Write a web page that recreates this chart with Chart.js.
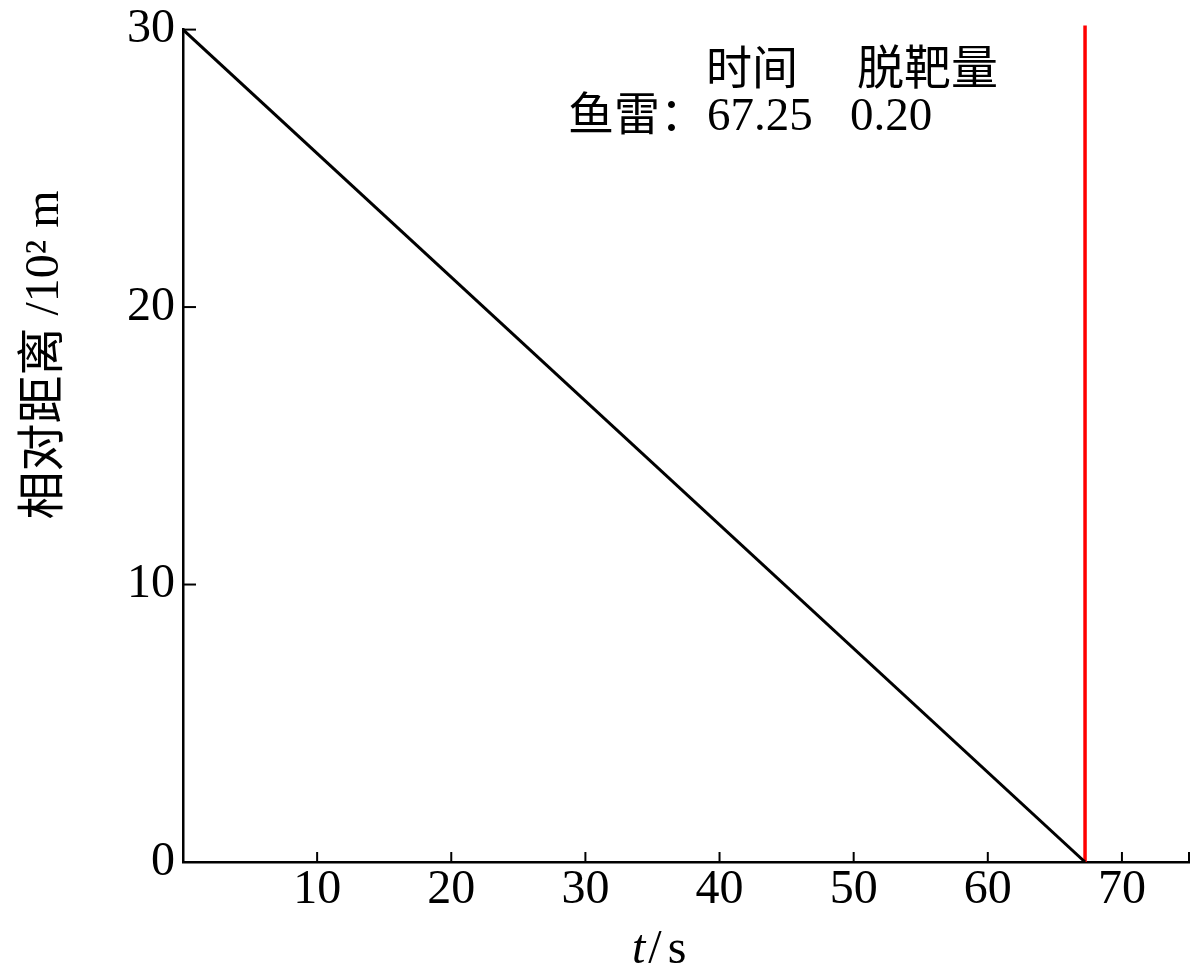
<!DOCTYPE html>
<html>
<head>
<meta charset="utf-8">
<script src="https://cdn.jsdelivr.net/npm/chart.js@4.4.1/dist/chart.umd.min.js"></script>
<style>
html,body{margin:0;padding:0;background:#fff;}
#wrap{width:1200px;height:977px;position:relative;}
</style>
</head>
<body>
<div id="wrap"><canvas id="c"></canvas></div>
<script>
// ---- data ----
const xTickValues = [0, 10, 20, 30, 40, 50, 60, 70, 75];
const yTickValues = [0, 10, 20, 30];
const torpedoTime = [0, 67.25];          // s
const torpedoDistance = [30, 0];          // 10^2 m
const hitTimeX = [67.25, 67.25];
const hitTimeY = [0, 30.15];
const headerRow = ['时间', '脱靶量'];
const valueRow = ['鱼雷：', '67.25', '0.20'];
const xTitle = ['t', '/', 's'];
const yTitle = '相对距离 /10² m';

const SERIF = '"Liberation Serif", "Noto Sans CJK SC", serif';

const inwardTicks = {
  id: 'inwardTicks',
  afterDatasetsDraw(chart) {
    const ctx = chart.ctx, xs = chart.scales.x, ys = chart.scales.y;
    const ca = chart.chartArea;
    ctx.save();
    ctx.strokeStyle = '#000';
    ctx.lineWidth = 2;
    xTickValues.forEach(v => {
      if (v === 0) return;
      const px = xs.getPixelForValue(v);
      ctx.beginPath(); ctx.moveTo(px, ca.bottom); ctx.lineTo(px, ca.bottom - 10); ctx.stroke();
    });
    yTickValues.forEach(v => {
      if (v === 0) return;
      const py = ys.getPixelForValue(v);
      ctx.beginPath(); ctx.moveTo(ca.left, py); ctx.lineTo(ca.left + 13, py); ctx.stroke();
    });
    ctx.restore();
  }
};

const texts = {
  id: 'texts',
  afterDraw(chart) {
    const ctx = chart.ctx;
    ctx.save();
    ctx.fillStyle = '#000';
    ctx.textBaseline = 'alphabetic';
    ctx.textAlign = 'left';
    ctx.font = '46px ' + SERIF;
    ctx.fillText(headerRow[0], 706, 84);
    ctx.font = '47px ' + SERIF;
    ctx.fillText(headerRow[1], 857, 84);
    ctx.font = '46px ' + SERIF;
    ctx.fillText(valueRow[0], 568, 130);
    ctx.font = '47px ' + SERIF;
    ctx.fillText(valueRow[1], 707, 130);
    ctx.fillText(valueRow[2], 850, 130);
    // x title
    ctx.font = 'italic 48px ' + SERIF;
    let x = 632;
    ctx.fillText(xTitle[0], x, 963);
    x += ctx.measureText(xTitle[0]).width + 3;
    ctx.font = '48px ' + SERIF;
    ctx.fillText(xTitle[1], x, 963);
    x += ctx.measureText(xTitle[1]).width + 6;
    ctx.fillText(xTitle[2], x, 963);
    // y title
    ctx.translate(58, 355);
    ctx.rotate(-Math.PI / 2);
    ctx.textAlign = 'center';
    ctx.font = '48px ' + SERIF;
    ctx.fillText(yTitle, 0, 0);
    ctx.restore();
  }
};

new Chart(document.getElementById('c'), {
  type: 'line',
  data: {
    datasets: [
      {
        data: torpedoTime.map((t, i) => ({x: t, y: torpedoDistance[i]})),
        borderColor: '#000', borderWidth: 3, pointRadius: 0, tension: 0, fill: false
      },
      {
        data: hitTimeX.map((t, i) => ({x: t, y: hitTimeY[i]})),
        borderColor: '#ff0000', borderWidth: 3.5, pointRadius: 0, tension: 0, fill: false, clip: false
      }
    ]
  },
  plugins: [inwardTicks, texts],
  options: {
    responsive: true,
    maintainAspectRatio: false,
    animation: false,
    layout: { padding: { left: 0, right: 11, top: 29, bottom: 0 } },
    plugins: { legend: { display: false }, tooltip: { enabled: false } },
    scales: {
      x: {
        type: 'linear', min: 0, max: 75,
        afterBuildTicks: s => { s.ticks = xTickValues.map(v => ({ value: v })); },
        afterFit: s => { s.height = 115; },
        grid: { display: false, drawTicks: false },
        border: { display: true, color: '#000', width: 2.5 },
        ticks: {
          color: '#000', padding: 4, autoSkip: false, maxRotation: 0,
          font: { family: SERIF, size: 48, lineHeight: 1 },
          callback: v => (v === 0 || v === 75) ? '' : String(v)
        }
      },
      y: {
        type: 'linear', min: 0, max: 30,
        afterBuildTicks: s => { s.ticks = yTickValues.map(v => ({ value: v })); },
        afterFit: s => { s.width = 183; },
        grid: { display: false, drawTicks: false },
        border: { display: true, color: '#000', width: 2.5 },
        ticks: {
          color: '#000', padding: 8,
          font: { family: SERIF, size: 48, lineHeight: 0.9 },
          callback: v => String(v)
        }
      }
    }
  }
});
</script>
</body>
</html>
